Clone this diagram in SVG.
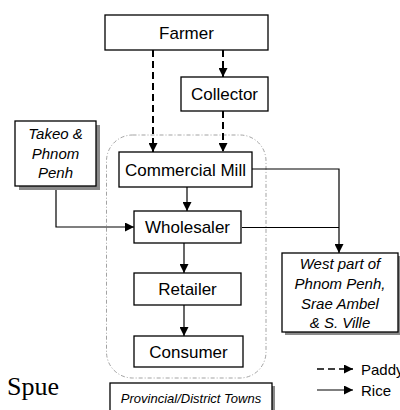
<svg xmlns="http://www.w3.org/2000/svg" width="400" height="410" viewBox="0 0 400 410">
<defs>
<style>
.box{fill:#fff;stroke:#000;stroke-width:1.3}
.shadow{fill:#8a8a8a}
.lbl{font-family:"Liberation Sans",Arial,sans-serif;font-size:17px;text-anchor:middle;fill:#000}
.it{font-family:"Liberation Sans",Arial,sans-serif;font-size:15px;font-style:italic;text-anchor:middle;fill:#000}
.solid{fill:none;stroke:#000;stroke-width:1.2}
.dash{fill:none;stroke:#000;stroke-width:2;stroke-dasharray:7 4}
.region{fill:none;stroke:#999;stroke-width:0.9;stroke-dasharray:4 2 1 2}
</style>
<marker id="ah" viewBox="0 0 10 10" refX="10" refY="5" markerWidth="9" markerHeight="9" markerUnits="userSpaceOnUse" orient="auto">
<path d="M0,0 L10,5 L0,10 z" fill="#000"/>
</marker>
</defs>
<rect width="400" height="410" fill="#fff"/>

<rect class="region" x="106.5" y="135" width="159.5" height="243" rx="26" ry="26"/>

<g id="connectors">
<path class="dash" d="M153,50 V152" marker-end="url(#ah)"/>
<path class="dash" d="M223,50 V77" marker-end="url(#ah)"/>
<path class="dash" d="M223,111 V152" marker-end="url(#ah)"/>
<path class="solid" d="M187,186 V211" marker-end="url(#ah)"/>
<path class="solid" d="M56,186 V227 H134" marker-end="url(#ah)"/>
<path class="solid" d="M252,169 H339 V253" marker-end="url(#ah)"/>
<path class="solid" d="M242,227.5 H339"/>
<path class="solid" d="M184,243 V273" marker-end="url(#ah)"/>
<path class="solid" d="M184,305 V336" marker-end="url(#ah)"/>
</g>

<g id="farmer">
<rect class="box" x="105" y="15" width="163" height="35"/>
<text class="lbl" x="186.5" y="38.5">Farmer</text>
</g>
<g id="collector">
<rect class="box" x="181" y="77" width="87" height="34"/>
<text class="lbl" x="224.5" y="100">Collector</text>
</g>
<g id="takeo">
<rect class="shadow" x="19" y="125" width="81" height="65"/>
<rect class="box" x="15" y="121" width="81" height="65"/>
<text class="it" x="55.5" y="138.5">Takeo &amp;</text>
<text class="it" x="55.5" y="158.5">Phnom</text>
<text class="it" x="55.5" y="178">Penh</text>
</g>
<g id="mill">
<rect class="box" x="119" y="152" width="133" height="35"/>
<text class="lbl" x="185.5" y="175.5">Commercial Mill</text>
</g>
<g id="wholesaler">
<rect class="box" x="134" y="211" width="107" height="32"/>
<text class="lbl" x="187.5" y="233">Wholesaler</text>
</g>
<g id="retailer">
<rect class="box" x="134" y="273" width="107" height="32"/>
<text class="lbl" x="187.5" y="295">Retailer</text>
</g>
<g id="consumer">
<rect class="box" x="134" y="336" width="109" height="31"/>
<text class="lbl" x="188.5" y="357.5">Consumer</text>
</g>
<g id="west">
<rect class="shadow" x="285" y="256" width="118" height="79"/>
<rect class="box" x="282" y="253" width="116" height="79"/>
<text class="it" x="340" y="268.5">West part of</text>
<text class="it" x="340" y="288.5">Phnom Penh,</text>
<text class="it" x="340" y="308.5">Srae Ambel</text>
<text class="it" x="340" y="328">&amp; S. Ville</text>
</g>
<g id="provincial">
<rect class="shadow" x="113" y="386" width="162" height="30"/>
<rect class="box" x="110" y="383" width="162" height="30"/>
<text class="it" x="191" y="403" style="font-size:13px">Provincial/District Towns</text>
</g>

<g id="legend">
<path class="dash" d="M317,369 H353" stroke-dasharray="6 4" style="stroke-width:1.6" marker-end="url(#ah)"/>
<path class="solid" d="M317,390 H353" marker-end="url(#ah)"/>
<text x="361" y="374.5" style="font-family:'Liberation Sans',Arial,sans-serif;font-size:15px">Paddy</text>
<text x="361" y="395.5" style="font-family:'Liberation Sans',Arial,sans-serif;font-size:15px">Rice</text>
</g>

<text x="7" y="395" style="font-family:'Liberation Serif','Times New Roman',serif;font-size:26px">Spue</text>
</svg>
